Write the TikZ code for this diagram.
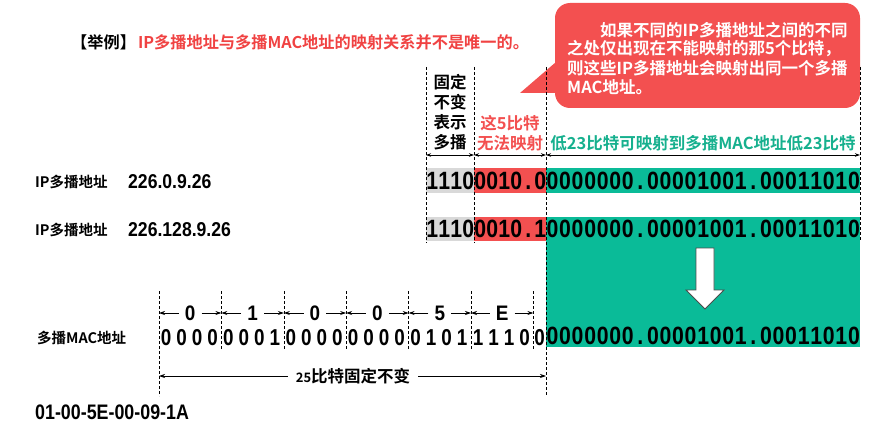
\documentclass[tikz,border=0pt]{standalone}
\usepackage{fontspec}
\usepackage{graphicx}
\setmainfont{Liberation Sans}[BoldFont={Liberation Sans Bold}]
\newfontfamily\cjk{Noto Sans CJK SC}[BoldFont={Noto Sans CJK SC Bold}]
\usetikzlibrary{arrows.meta}
\definecolor{myred}{RGB}{243,80,80}
\definecolor{myteal}{RGB}{10,187,152}
\definecolor{mygray}{RGB}{217,217,217}
\definecolor{titlered}{RGB}{240,66,66}
\definecolor{tealtext}{RGB}{22,176,142}
\newlength\bitw
\newcommand\bitstr[2]{\setlength\bitw{#1}\bitsloop#2\relax}
\def\bitsloop#1{\ifx\relax#1\else\makebox[\bitw][c]{\scalebox{0.85}[1]{#1}}\expandafter\bitsloop\fi}
\newcommand\bitfont{\bfseries\fontsize{25}{25}\selectfont}
\newcommand\macbitfont{\bfseries\fontsize{23}{23}\selectfont}
\begin{document}
\begin{tikzpicture}[x=1pt,y=-1pt,
  cn/.style={font=\cjk\bfseries\fontsize{16.5}{19}\selectfont, inner sep=0pt},
  cnsmall/.style={font=\cjk\bfseries\fontsize{14.5}{17}\selectfont, inner sep=0pt},
  lat/.style={font=\bfseries\fontsize{20}{20}\selectfont, inner sep=0pt},
  bitrow/.style={font=\bitfont, inner sep=0pt, anchor=west},
  macbit/.style={font=\macbitfont, inner sep=0pt},
  hexlbl/.style={font=\bfseries\fontsize{21}{21}\selectfont, inner sep=0pt},
  guide/.style={dashed, dash pattern=on 3pt off 2pt, line width=0.6pt, black},
  dim/.style={-{Stealth[length=6pt,width=4pt]}, line width=0.7pt},
  ddim/.style={{Stealth[length=5pt,width=3.5pt]}-{Stealth[length=5pt,width=3.5pt]}, line width=0.7pt}]
\useasboundingbox (0,0) rectangle (896,433);

% title
\node[cn, anchor=west, font=\cjk\bfseries\fontsize{16.2}{18}\selectfont] (title) at (71,42)
  {【举例】\hspace{2pt}\textcolor{titlered}{IP多播地址与多播MAC地址的映射关系并不是唯一的。}};

% callout
\fill[myred, rounded corners=15pt] (555,3) rectangle (860,108);
\fill[myred] (556,62) -- (520,93) -- (562,93) -- cycle;
\node[cn, anchor=west, text=white] (c1) at (600,30) {如果不同的IP多播地址之间的不同};
\node[cn, anchor=west, text=white] (c2) at (567,49) {之处仅出现在不能映射的那5个比特，};
\node[cn, anchor=west, text=white] (c3) at (567,68) {则这些IP多播地址会映射出同一个多播};
\node[cn, anchor=west, text=white] (c4) at (567,87) {MAC地址。};

% header texts
\node[cn] (h1) at (450,82) {固定};
\node[cn] (h2) at (450,102) {不变};
\node[cn] (h3) at (450,122) {表示};
\node[cn] (h4) at (450,142) {多播};
\node[cn, text=myred] (r1) at (510,123) {这5比特};
\node[cn, text=myred] (r2) at (510,143) {无法映射};
\node[cn, text=tealtext] (g1) at (703,143) {低23比特可映射到多播MAC地址低23比特};

% boxes
\fill[mygray] (426,168) rectangle (474,193);
\fill[myred] (474,168) rectangle (546,193);
\fill[myteal] (546,168) rectangle (860,193);
\fill[mygray] (426,217) rectangle (474,241);
\fill[myred] (474,217) rectangle (546,241);
\fill[myteal] (546,217) rectangle (860,347);

% guide lines
\coordinate (d1t) at (426,67); \coordinate (d1b) at (426,243);
\coordinate (d2t) at (474,67); \coordinate (d2b) at (474,243);
\coordinate (d3t) at (546,67); \coordinate (d3b) at (546,396);
\coordinate (d4t) at (860,67); \coordinate (d4b) at (860,240);
\draw[guide] (d1t) -- (d1b);
\draw[guide] (d2t) -- (d2b);
\draw[guide] (d3t) -- (d3b);
\draw[guide] (d4t) -- (d4b);

% header dimension arrows
\coordinate (a1) at (426,155); \coordinate (a2) at (474,155);
\coordinate (a3) at (546,155); \coordinate (a4) at (860,155);
\draw[ddim] (a1) -- (a2);
\draw[ddim] (a2) -- (a3);
\draw[ddim] (a3) -- (a4);

% IP rows
\node[cnsmall, anchor=west] (ip1) at (35,182) {IP多播地址};
\node[lat, anchor=west] (ipa1) at (128,182) {\scalebox{0.88}[1]{226.0.9.26}};
\node[cnsmall, anchor=west] (ip2) at (35,230) {IP多播地址};
\node[lat, anchor=west] (ipa2) at (128,230) {\scalebox{0.88}[1]{226.128.9.26}};

\node[bitrow] (b1a) at (426,181) {\bitstr{12pt}{1110}};
\node[bitrow] (b1b) at (474,181) {\bitstr{12pt}{0010.0}};
\node[bitrow] (b1c) at (546,181) {\bitstr{12.56pt}{0000000.00001001.00011010}};
\node[bitrow] (b2a) at (426,229) {\bitstr{12pt}{1110}};
\node[bitrow] (b2b) at (474,229) {\bitstr{12pt}{0010.1}};
\node[bitrow] (b2c) at (546,229) {\bitstr{12.56pt}{0000000.00001001.00011010}};

% down arrow
\draw[fill=white, draw=black!70, line width=0.8pt]
  (696,248) -- (714,248) -- (714,290) -- (724,290) -- (705,309) -- (686,290) -- (696,290) -- cycle;

% MAC section
\node[cnsmall, anchor=west] (mac) at (37,338) {多播MAC地址};
\foreach \i in {0,...,6} {
  \coordinate (m\i t) at ({159+62.4*\i},291);
  \coordinate (m\i b) at ({159+62.4*\i},350);
}
\coordinate (m0bb) at (159,396);
\draw[guide] (m0t) -- (m0bb);
\foreach \i in {1,...,6} { \draw[guide] (m\i t) -- (m\i b); }

\foreach \h [count=\j from 0] in {0,1,0,0,5,E} {
  \pgfmathsetmacro{\xc}{159+62.4*\j+31.2}
  \node[hexlbl] (hx\j) at (\xc,313) {\scalebox{0.9}[1]{\h}};
  \pgfmathtruncatemacro{\jn}{\j+1}
  \draw[dim] ([xshift=-6pt]hx\j.west) -- (m\j t |- hx\j.west);
  \draw[dim] ([xshift=6pt]hx\j.east) -- (m\jn t |- hx\j.east);
}

\foreach \b [count=\k from 0] in {0,0,0,0, 0,0,0,1, 0,0,0,0, 0,0,0,0, 0,1,0,1, 1,1,1,0} {
  \pgfmathsetmacro{\xx}{159+62.4*floor(\k/4)+7+15.5*mod(\k,4)}
  \node[macbit] (mb\k) at (\xx,338) {\scalebox{0.82}[1]{\b}};
}
\node[macbit] (mb24) at (539.5,338) {\scalebox{0.82}[1]{0}};
\node[bitrow] (mbg) at (546,336) {\bitstr{12.56pt}{0000000.00001001.00011010}};

% 25 bits
\node[cn] (n25) at (353,376) {{\fontsize{13}{13}\selectfont 25}比特固定不变};
\draw[dim] ([xshift=-8pt]n25.west) -- (m0t |- n25.west);
\draw[dim] ([xshift=8pt]n25.east) -- (d3t |- n25.east);

\node[lat, anchor=west, font=\bfseries\fontsize{21}{21}\selectfont] (macstr) at (35,412) {\scalebox{0.85}[1]{01-00-5E-00-09-1A}};
\end{tikzpicture}
\end{document}
